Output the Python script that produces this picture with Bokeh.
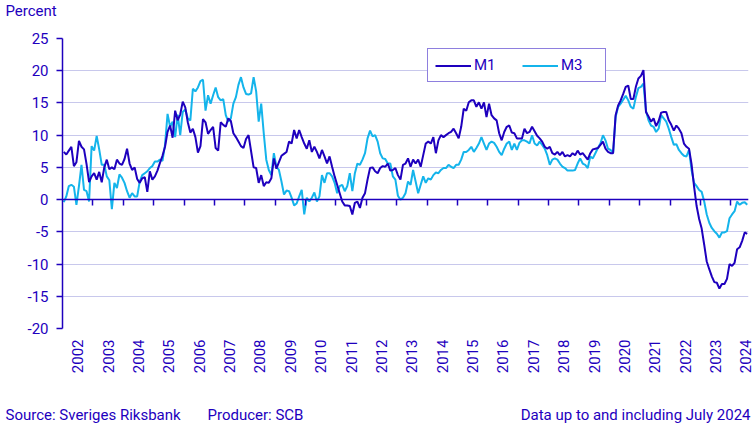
from math import pi
from bokeh.plotting import figure
from bokeh.models import (Range1d, FixedTicker, LinearAxis, Legend, LegendItem,
                          Label, ColumnDataSource)
from bokeh.embed import file_html
from bokeh.resources import INLINE

DARK = "#1e00be"
LIGHT = "#14b4eb"
GRID = "#c8c8ec"
FONT = "Roboto"

year_labels = [str(y) for y in range(2002, 2025)]
y_tick_values = [25, 20, 15, 10, 5, 0, -5, -10, -15, -20]

# M1, annual percentage change, monthly from January 2002
m1_2002 = [7.4, 7.0, 7.6, 8.2, 5.2, 5.8, 9.1, 8.2, 7.8, 5.5, 2.7, 3.6]
m1_2003 = [4.1, 3.1, 4.3, 2.7, 5.0, 6.2, 4.7, 5.0, 4.7, 6.2, 5.6, 5.4]
m1_2004 = [6.3, 7.9, 5.6, 4.6, 5.0, 3.2, 2.6, 3.3, 3.5, 1.2, 4.4, 3.1]
m1_2005 = [3.6, 4.5, 5.7, 6.8, 8.2, 10.5, 11.5, 9.6, 13.8, 12.3, 13.2, 15.2]
m1_2006 = [14.3, 12.0, 10.4, 11.0, 9.7, 7.3, 8.3, 12.5, 12.0, 10.2, 10.8, 11.3]
m1_2007 = [8.0, 7.6, 12.0, 11.6, 11.3, 12.6, 12.2, 10.3, 9.7, 9.0, 8.3, 8.0]
m1_2008 = [9.4, 10.0, 7.5, 5.0, 4.9, 2.6, 3.8, 2.1, 2.7, 2.6, 3.3, 6.4]
m1_2009 = [4.8, 5.8, 6.8, 7.1, 7.4, 9.0, 8.7, 10.8, 9.5, 10.8, 9.7, 8.7]
m1_2010 = [7.9, 9.2, 7.4, 8.2, 7.4, 6.4, 7.7, 6.7, 5.6, 6.7, 5.1, 3.6]
m1_2011 = [2.3, 1.0, -0.3, -0.9, -0.9, -1.0, -2.3, -0.5, -0.3, -1.3, 0.3, 1.0]
m1_2012 = [3.1, 4.9, 5.0, 4.4, 4.1, 4.9, 5.2, 5.1, 5.6, 4.5, 4.6, 4.9]
m1_2013 = [3.8, 3.1, 5.4, 5.6, 6.4, 5.1, 6.2, 5.6, 6.2, 5.1, 6.9, 8.7]
m1_2014 = [9.0, 8.7, 9.7, 7.2, 9.2, 10.0, 9.7, 10.0, 10.3, 10.5, 11.0, 10.3]
m1_2015 = [9.5, 11.3, 14.1, 13.8, 15.1, 15.4, 15.4, 14.4, 15.1, 14.1, 15.1, 12.8]
m1_2016 = [14.9, 13.1, 12.6, 12.3, 10.3, 9.2, 10.5, 11.3, 11.5, 10.4, 10.3, 9.5]
m1_2017 = [9.5, 9.5, 11.0, 10.3, 10.5, 11.3, 10.6, 9.9, 9.5, 9.0, 8.2, 7.9]
m1_2018 = [8.2, 7.2, 7.0, 7.4, 6.9, 7.4, 6.7, 6.9, 6.7, 7.2, 6.9, 7.6]
m1_2019 = [7.0, 7.2, 6.7, 6.2, 7.2, 7.8, 7.9, 8.0, 8.5, 9.0, 7.9, 7.4]
m1_2020 = [7.2, 7.2, 13.1, 14.6, 15.4, 16.4, 17.5, 17.7, 15.6, 15.6, 17.5, 18.8]
m1_2021 = [19.2, 20.1, 13.6, 12.9, 12.1, 12.6, 11.4, 12.2, 13.5, 13.6, 13.6, 12.3]
m1_2022 = [11.6, 10.7, 11.5, 11.0, 10.3, 8.7, 8.2, 7.9, 5.5, 2.0, -1.0, -3.0]
m1_2023 = [-4.5, -7.0, -9.6, -10.8, -11.9, -12.8, -12.9, -13.8, -13.1, -13.1, -12.3, -10.0]
m1_2024 = [-10.3, -9.8, -7.7, -7.4, -6.4, -5.1, -5.3]

# M3, annual percentage change, monthly from January 2002
m3_2002 = [-0.4, 0.5, 2.1, 2.3, 2.0, -0.8, 2.1, 5.4, 1.5, 1.3, -0.3, 8.3]
m3_2003 = [7.6, 9.9, 7.8, 5.4, 5.4, 3.6, 3.0, -1.5, 2.6, 1.8, 3.9, 3.4]
m3_2004 = [2.6, 1.3, 0.3, 1.0, 0.5, 0.5, 2.8, 3.8, 4.1, 4.4, 4.9, 5.2]
m3_2005 = [5.9, 5.9, 6.2, 6.0, 8.5, 13.3, 11.3, 12.1, 9.7, 13.2, 10.0, 13.6]
m3_2006 = [14.0, 12.6, 12.3, 17.2, 16.8, 17.4, 18.4, 18.6, 13.8, 16.2, 14.9, 16.2]
m3_2007 = [17.4, 15.9, 15.4, 15.6, 13.1, 12.1, 12.6, 14.9, 15.9, 17.8, 19.0, 17.4]
m3_2008 = [16.4, 16.3, 16.5, 19.0, 16.8, 12.1, 14.9, 10.3, 6.2, 4.6, 3.8, 7.2]
m3_2009 = [5.1, 4.6, 2.8, 0.8, 1.4, 1.3, 0.3, -0.9, -0.6, 0.5, 1.5, -2.3]
m3_2010 = [0.3, -0.3, 0.3, 1.1, -0.3, 0.5, 3.8, 2.6, 4.1, 4.1, 3.6, 2.6]
m3_2011 = [1.0, 2.1, 2.3, 1.3, 2.1, 4.1, 1.3, 4.1, 5.6, 5.4, 6.2, 7.2]
m3_2012 = [9.5, 10.7, 9.8, 10.0, 9.0, 7.2, 6.4, 6.3, 5.6, 5.6, 3.6, 3.1]
m3_2013 = [0.6, 0.0, 0.3, 1.0, 2.8, 2.3, 4.6, 2.8, 1.0, 2.3, 3.6, 2.6]
m3_2014 = [3.3, 3.1, 3.8, 4.2, 4.1, 4.6, 4.9, 4.9, 5.4, 5.1, 4.9, 5.4]
m3_2015 = [5.4, 6.2, 7.4, 7.4, 7.7, 8.2, 7.4, 8.0, 8.7, 9.7, 8.7, 7.7]
m3_2016 = [8.7, 9.0, 8.8, 8.2, 7.4, 6.9, 7.9, 8.7, 9.0, 7.7, 8.7, 7.7]
m3_2017 = [8.8, 9.2, 9.2, 9.0, 8.7, 10.0, 8.7, 8.4, 9.0, 8.5, 7.9, 6.9]
m3_2018 = [5.4, 6.2, 6.4, 6.2, 5.6, 5.1, 4.9, 4.5, 4.5, 4.5, 4.6, 5.6]
m3_2019 = [6.4, 5.6, 5.4, 4.9, 6.7, 6.4, 7.2, 8.0, 8.7, 10.0, 9.2, 7.9]
m3_2020 = [7.7, 7.2, 12.8, 14.4, 14.9, 15.5, 16.1, 15.4, 14.4, 14.1, 15.9, 17.3]
m3_2021 = [17.5, 18.0, 13.8, 12.3, 11.5, 11.3, 10.5, 11.0, 13.1, 12.6, 12.1, 11.0]
m3_2022 = [9.7, 8.5, 8.6, 7.7, 7.2, 6.8, 6.7, 7.7, 4.6, 2.6, 2.1, 1.5]
m3_2023 = [1.2, -0.3, -2.3, -3.6, -4.4, -4.9, -5.3, -5.9, -5.1, -5.1, -4.9, -2.9]
m3_2024 = [-2.3, -1.8, -0.3, -0.8, -0.5, -0.4, -0.8]

m1 = (m1_2002 + m1_2003 + m1_2004 + m1_2005 + m1_2006 + m1_2007 + m1_2008 +
      m1_2009 + m1_2010 + m1_2011 + m1_2012 + m1_2013 + m1_2014 + m1_2015 +
      m1_2016 + m1_2017 + m1_2018 + m1_2019 + m1_2020 + m1_2021 + m1_2022 +
      m1_2023 + m1_2024)
m3 = (m3_2002 + m3_2003 + m3_2004 + m3_2005 + m3_2006 + m3_2007 + m3_2008 +
      m3_2009 + m3_2010 + m3_2011 + m3_2012 + m3_2013 + m3_2014 + m3_2015 +
      m3_2016 + m3_2017 + m3_2018 + m3_2019 + m3_2020 + m3_2021 + m3_2022 +
      m3_2023 + m3_2024)

n_months = len(m1)
x_mid = [i + 0.5 for i in range(n_months)]
src = ColumnDataSource(dict(x=x_mid, m1=m1, m3=m3))

year_centres = [12 * k + 6 for k in range(len(year_labels))]
year_bounds = [12 * k for k in range(1, len(year_labels))]

p = figure(width=755, height=430, output_backend="svg", toolbar_location=None,
           x_range=Range1d(0, n_months), y_range=Range1d(-20, 25),
           min_border_left=62, min_border_right=7, min_border_top=38,
           min_border_bottom=100)
p.outline_line_color = None
p.background_fill_color = "white"
p.border_fill_color = "white"

p.xgrid.visible = False
p.ygrid.ticker = FixedTicker(ticks=y_tick_values)
p.ygrid.grid_line_color = GRID
p.ygrid.grid_line_width = 1

ya = p.yaxis[0]
ya.ticker = FixedTicker(ticks=y_tick_values)
ya.major_label_overrides = {v: str(v) for v in y_tick_values}
ya.axis_line_color = DARK
ya.axis_line_width = 1.5
ya.major_tick_line_color = DARK
ya.major_tick_line_width = 1.5
ya.major_tick_in = 0
ya.major_tick_out = 6
ya.minor_tick_line_color = None
ya.major_label_standoff = 8
ya.major_label_text_font = FONT
ya.major_label_text_font_size = "15px"
ya.major_label_text_color = DARK

xa = p.xaxis[0]
xa.ticker = FixedTicker(ticks=year_centres)
xa.major_label_overrides = {c: lab for c, lab in zip(year_centres, year_labels)}
xa.major_label_orientation = pi / 2
xa.axis_line_color = None
xa.major_tick_line_color = None
xa.minor_tick_line_color = None
xa.major_tick_out = 0
xa.major_label_standoff = 11
xa.major_label_text_font = FONT
xa.major_label_text_font_size = "15px"
xa.major_label_text_color = DARK

za = LinearAxis(fixed_location=0, ticker=FixedTicker(ticks=year_bounds),
                major_label_overrides={b: "" for b in year_bounds},
                axis_line_color=DARK, axis_line_width=1.5,
                major_tick_line_color=DARK, major_tick_line_width=1.5,
                major_tick_in=0, major_tick_out=6,
                minor_tick_line_color=None)
p.add_layout(za, "below")

r3 = p.line("x", "m3", source=src, line_color=LIGHT, line_width=2)
r1 = p.line("x", "m1", source=src, line_color=DARK, line_width=2)

legend = Legend(items=[LegendItem(label="M1", renderers=[r1]),
                       LegendItem(label="M3", renderers=[r3])],
                location=(365, 246), orientation="horizontal", margin=0,
                padding=7, spacing=11, glyph_width=36, glyph_height=17,
                label_height=17, label_width=37, label_standoff=3,
                border_line_color=DARK, border_line_width=1.5,
                background_fill_color="white", background_fill_alpha=1,
                label_text_font=FONT, label_text_font_size="15px",
                label_text_color=DARK)
p.add_layout(legend)


def side_text(side, x, y, s, align="left"):
    p.add_layout(Label(x=x, y=y, x_units="screen", y_units="screen", text=s,
                       text_font=FONT, text_font_size="15px", text_color=DARK,
                       text_align=align, text_baseline="alphabetic"), side)


side_text("above", -57, 28, "Percent")
side_text("below", -57, -20, "Source: Sveriges Riksbank")
side_text("below", 145, -2, "Producer: SCB")
side_text("below", 688, 16, "Data up to and including July 2024", align="right")

open("out.html", "w").write(file_html(p, INLINE))
